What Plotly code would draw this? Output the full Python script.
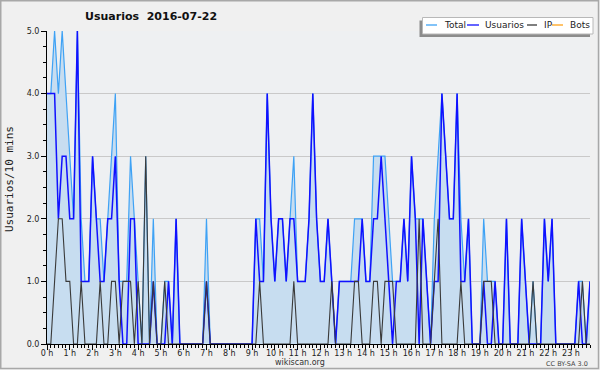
import plotly.graph_objects as go

# 10-minute slots of the day (minutes since 00:00)
minutes = list(range(0, 1440, 10))

total = [4, 4, 5, 4, 5, 4, 3, 2, 5, 2, 1, 1,
         3, 2, 2, 1, 2, 3, 4, 1, 1, 1, 3, 2,
         1, 0, 3, 0, 2, 0, 0, 1, 1, 0, 2, 0,
         0, 0, 0, 0, 0, 0, 2, 0, 0, 0, 0, 0,
         0, 0, 0, 0, 0, 0, 0, 2, 2, 1, 4, 2,
         1, 2, 2, 1, 2, 3, 1, 1, 1, 2, 4, 2,
         1, 1, 2, 1, 0, 1, 1, 1, 1, 2, 2, 2,
         1, 1, 3, 3, 3, 3, 2, 1, 1, 1, 2, 1,
         3, 2, 2, 2, 1, 0, 2, 3, 4, 3, 2, 2,
         4, 2, 1, 2, 0, 0, 0, 2, 1, 1, 1, 0,
         0, 2, 0, 0, 0, 2, 1, 0, 1, 0, 0, 2,
         1, 2, 0, 0, 0, 0, 0, 0, 1, 1, 0, 1]

usuarios = [4, 4, 4, 2, 3, 3, 2, 2, 5, 1, 1, 1,
            3, 2, 1, 1, 2, 2, 3, 1, 0, 0, 2, 2,
            0, 0, 0, 0, 1, 0, 0, 0, 1, 0, 2, 0,
            0, 0, 0, 0, 0, 0, 1, 0, 0, 0, 0, 0,
            0, 0, 0, 0, 0, 0, 0, 2, 1, 1, 4, 2,
            1, 2, 2, 1, 2, 2, 1, 1, 1, 2, 4, 2,
            1, 1, 2, 1, 0, 1, 1, 1, 1, 1, 1, 2,
            1, 1, 2, 2, 3, 2, 1, 0, 1, 1, 2, 1,
            3, 2, 0, 2, 1, 0, 1, 1, 4, 3, 2, 2,
            4, 1, 1, 2, 0, 0, 0, 1, 0, 0, 1, 0,
            0, 2, 0, 0, 0, 2, 1, 0, 0, 0, 0, 2,
            1, 2, 0, 0, 0, 0, 0, 0, 1, 0, 0, 1]

ip = [0, 0, 1, 2, 2, 1, 1, 0, 0, 1, 0, 0,
      0, 0, 1, 0, 0, 1, 1, 0, 1, 1, 1, 0,
      1, 0, 3, 0, 1, 0, 0, 1, 0, 0, 0, 0,
      0, 0, 0, 0, 0, 0, 1, 0, 0, 0, 0, 0,
      0, 0, 0, 0, 0, 0, 0, 0, 1, 0, 0, 0,
      0, 0, 0, 0, 0, 1, 0, 0, 0, 0, 0, 0,
      0, 0, 0, 1, 0, 0, 0, 0, 0, 1, 1, 0,
      0, 0, 1, 1, 0, 1, 1, 1, 0, 0, 0, 0,
      0, 0, 2, 0, 0, 0, 1, 2, 0, 0, 0, 0,
      0, 1, 0, 0, 0, 0, 0, 1, 1, 1, 0, 0,
      0, 0, 0, 0, 0, 0, 0, 0, 1, 0, 0, 0,
      0, 0, 0, 0, 0, 0, 0, 0, 0, 1, 0, 0]

bots = [0, 0, 0, 0, 0, 0, 0, 0, 0, 0, 0, 0,
        0, 0, 0, 0, 0, 0, 0, 0, 0, 0, 0, 0,
        0, 0, 0, 0, 0, 0, 0, 0, 0, 0, 0, 0,
        0, 0, 0, 0, 0, 0, 0, 0, 0, 0, 0, 0,
        0, 0, 0, 0, 0, 0, 0, 0, 0, 0, 0, 0,
        0, 0, 0, 0, 0, 0, 0, 0, 0, 0, 0, 0,
        0, 0, 0, 0, 0, 0, 0, 0, 0, 0, 0, 0,
        0, 0, 0, 0, 0, 0, 0, 0, 0, 0, 0, 0,
        0, 0, 0, 0, 0, 0, 0, 0, 0, 0, 0, 0,
        0, 0, 0, 0, 0, 0, 0, 0, 0, 0, 0, 0,
        0, 0, 0, 0, 0, 0, 0, 0, 0, 0, 0, 0,
        0, 0, 0, 0, 0, 0, 0, 0, 0, 0, 0, 0]

hour_ticks = list(range(0, 1440, 60))
hour_labels = [f"{h} h" for h in range(24)]
y_ticks = [0, 1, 2, 3, 4, 5]

series_names = ["Total", "Usuarios", "IP", "Bots"]
series_colors = ["#3ea2f5", "#1010ff", "#3a3a3a", "#ffa21a"]

W, H = 600, 370
L, R, T, B = 47, 10, 31, 26
PW, PH = W - L - R, H - T - B
FONT = "DejaVu Sans"


def px(x):
    return (x - L) / PW


def py(y):
    return (H - B - y) / PH


fig = go.Figure()

fig.add_trace(go.Scatter(x=minutes, y=bots, mode="lines", name="Bots",
                         line=dict(color=series_colors[3], width=1),
                         showlegend=False, hoverinfo="skip"))
fig.add_trace(go.Scatter(x=minutes, y=total, mode="lines", name="Total",
                         fill="tozeroy", fillcolor="#c7ddf0",
                         line=dict(color=series_colors[0], width=1.2),
                         showlegend=False))
fig.add_trace(go.Scatter(x=minutes, y=usuarios, mode="lines", name="Usuarios",
                         line=dict(color=series_colors[1], width=1.5),
                         showlegend=False))
fig.add_trace(go.Scatter(x=minutes, y=ip, mode="lines", name="IP",
                         line=dict(color=series_colors[2], width=1.1),
                         showlegend=False))

shapes = []
annotations = []

# outer frame
shapes.append(dict(type="rect", xref="paper", yref="paper",
                   x0=px(0.75), x1=px(598.5), y0=py(368.5), y1=py(0.75),
                   line=dict(color="#a8a8a8", width=1.5), layer="below"))

# legend box with shadow
shapes.append(dict(type="rect", xref="paper", yref="paper",
                   x0=px(419.5), x1=px(590), y0=py(37), y1=py(20.5),
                   fillcolor="#8c8c8c", line=dict(width=0), layer="above"))
shapes.append(dict(type="rect", xref="paper", yref="paper",
                   x0=px(422.5), x1=px(593), y0=py(34), y1=py(17.5),
                   fillcolor="#ffffff", line=dict(color="#b8b8b8", width=1),
                   layer="above"))
leg_lines = [(426, 437), (467, 479), (527, 537), (552, 563)]
leg_text_x = [441.5, 483, 541.5, 568]
for (a, b), tx, name, col in zip(leg_lines, leg_text_x, series_names, series_colors):
    shapes.append(dict(type="line", xref="paper", yref="paper",
                       x0=px(a), x1=px(b), y0=py(25), y1=py(25),
                       line=dict(color=col, width=1.3), layer="above"))
    annotations.append(dict(text=name, xref="paper", yref="paper",
                            x=px(tx), y=py(25.5), xanchor="left", yanchor="middle",
                            showarrow=False, font=dict(family=FONT, size=9, color="#222")))

# title
annotations.append(dict(text="<b>Usuarios\u00a0\u00a02016-07-22</b>", xref="paper", yref="paper",
                        x=px(151), y=py(16.5), xanchor="center", yanchor="middle",
                        showarrow=False, font=dict(family=FONT, size=11, color="#111")))
# y axis title
annotations.append(dict(text="Usuarios/10 mins", xref="paper", yref="paper",
                        x=px(9), y=py(179), xanchor="center", yanchor="middle",
                        textangle=-90, showarrow=False,
                        font=dict(family="DejaVu Sans Mono", size=11, color="#222")))
# footer
annotations.append(dict(text="wikiscan.org", xref="paper", yref="paper",
                        x=px(300), y=py(362.5), xanchor="center", yanchor="middle",
                        showarrow=False, font=dict(family=FONT, size=8, color="#333")))
annotations.append(dict(text="CC BY-SA 3.0", xref="paper", yref="paper",
                        x=px(590), y=py(363.5), xanchor="right", yanchor="middle",
                        showarrow=False, font=dict(family=FONT, size=6.5, color="#444")))

fig.update_layout(
    width=W, height=H,
    margin=dict(l=L, r=R, t=T, b=B, pad=0),
    paper_bgcolor="#f0f0f0", plot_bgcolor="#eef0f2",
    showlegend=False,
    shapes=shapes, annotations=annotations,
    font=dict(family=FONT, size=8, color="#222"),
    xaxis=dict(range=[0, 1430], tickmode="array", tickvals=hour_ticks, ticktext=hour_labels,
               showgrid=False, zeroline=False, showline=True, linecolor="black", linewidth=1,
               ticks="outside", ticklen=5, tickcolor="black", tickwidth=1,
               ticklabelstandoff=-4,
               tickfont=dict(family=FONT, size=8, color="#222"),
               minor=dict(dtick=10, tick0=0, ticks="outside", ticklen=3,
                          tickcolor="black", tickwidth=1, showgrid=False)),
    yaxis=dict(range=[0, 5], tickmode="array", tickvals=y_ticks,
               ticktext=[f"{v:.1f}" for v in y_ticks],
               showgrid=True, gridcolor="#c9c9c9", gridwidth=1, zeroline=False,
               showline=True, linecolor="black", linewidth=1,
               ticks="outside", ticklen=5, tickcolor="black", tickwidth=1,
               tickfont=dict(family=FONT, size=8, color="#222"),
               minor=dict(dtick=0.25, tick0=0, ticks="outside", ticklen=3,
                          tickcolor="black", tickwidth=1, showgrid=False)),
)

fig.write_html("out.html",
               config={"displayModeBar": False, "staticPlot": True},
               post_script="document.body.style.margin='0px';document.body.style.overflow='hidden';")
